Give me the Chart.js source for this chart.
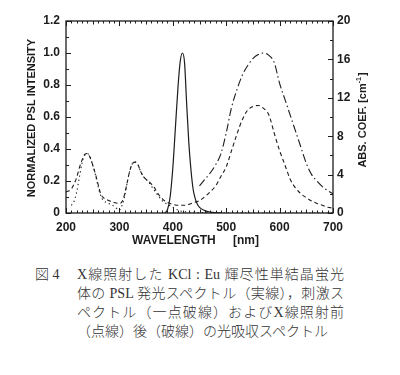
<!DOCTYPE html>
<html lang="ja">
<head>
<meta charset="utf-8">
<script src="https://cdn.jsdelivr.net/npm/chart.js@4.4.0/dist/chart.umd.min.js"></script>
<style>
body { margin: 0; background: #fff; width: 400px; height: 375px; overflow: hidden; position: relative; }
#chart { position: absolute; left: 0; top: 0; }
.cap { position: absolute; font-family: "Liberation Serif", "Noto Sans CJK JP", serif; font-size: 14px; font-weight: 300; line-height: 19px; color: #333; white-space: nowrap; }
.just { width: 267px; text-align: justify; text-align-last: justify; }
</style>
</head>
<body>
<canvas id="chart" width="400" height="250"></canvas>
<div class="cap" style="left:35px; top:265px;">図 4</div>
<div class="cap" style="left:77px; top:265px;">
  <div class="just">X線照射した KCl : Eu 輝尽性単結晶蛍光</div>
  <div class="just">体の PSL 発光スペクトル（実線），刺激ス</div>
  <div class="just">ペクトル（一点破線）およびX線照射前</div>
  <div>（点線）後（破線）の光吸収スペクトル</div>
</div>
<script>
// PSL emission (solid), normalized
const pslWavelength = [385, 390, 395, 400, 405, 410, 414, 418, 422, 426, 430, 434, 438, 442, 446, 450, 460, 470, 480, 490];
const pslIntensity  = [0, 0.02, 0.1, 0.28, 0.54, 0.8, 0.95, 1.0, 0.94, 0.68, 0.44, 0.27, 0.15, 0.09, 0.055, 0.035, 0.015, 0.006, 0.002, 0];

// stimulation spectrum (dash-dot), normalized
const stimWavelength = [450, 460, 470, 480, 490, 500, 510, 520, 530, 540, 550, 560, 570, 580, 590, 600, 610, 620, 630, 640, 650, 660, 670, 680, 690, 700];
const stimIntensity  = [0.17, 0.21, 0.25, 0.3, 0.37, 0.5, 0.66, 0.77, 0.86, 0.92, 0.965, 0.99, 1.0, 0.985, 0.94, 0.81, 0.71, 0.61, 0.51, 0.41, 0.31, 0.24, 0.2, 0.165, 0.14, 0.12];

// absorption after X-ray irradiation (dashed), cm^-1
const absAfterWavelength = [200, 205, 210, 215, 220, 225, 230, 235, 240, 245, 250, 255, 260, 265, 270, 280, 290, 300, 305, 310, 315, 320, 325, 330, 335, 340, 345, 350, 355, 360, 365, 370, 375, 380, 385, 390, 400, 410, 420, 430, 440, 450, 460, 470, 480, 490, 500, 510, 520, 530, 540, 550, 560, 570, 580, 590, 600, 610, 620, 630, 640, 650, 660, 670, 680, 690, 700];
const absAfterCoef = [2.2, 2.3, 2.5, 3.0, 3.7, 4.7, 5.5, 6.1, 6.2, 5.8, 5.0, 4.1, 3.0, 2.0, 1.6, 1.3, 1.1, 1.0, 1.2, 2.0, 3.3, 4.5, 5.2, 5.3, 5.0, 4.3, 3.8, 3.5, 3.3, 3.0, 2.7, 2.2, 1.8, 1.5, 1.25, 1.1, 0.9, 0.8, 0.8, 0.9, 1.1, 1.3, 1.7, 2.2, 2.8, 3.8, 4.8, 6.5, 8.2, 9.7, 10.7, 11.1, 11.2, 10.9, 10.2, 8.3, 6.5, 5.0, 3.5, 2.6, 2.0, 1.6, 1.25, 1.0, 0.8, 0.6, 0.5];

// absorption before X-ray irradiation (dotted), cm^-1
const absBeforeWavelength = [210, 215, 220, 225, 230, 235, 240, 245, 250, 255, 260, 265, 270, 280, 290, 300, 305, 310, 315, 320, 325, 330, 335, 340, 345, 350, 355, 360, 370, 380, 390, 400, 410, 420, 430, 450, 500, 600, 700];
const absBeforeCoef = [0.8, 1.2, 2.2, 3.7, 5.2, 6.0, 6.2, 5.8, 5.0, 4.0, 2.8, 1.8, 1.3, 1.0, 0.7, 0.3, 0.8, 1.8, 3.3, 4.5, 5.2, 5.3, 5.0, 4.3, 3.8, 3.5, 3.2, 2.8, 2.0, 1.3, 0.9, 0.6, 0.3, 0.15, 0.1, 0.05, 0.02, 0, 0];

const wavelengthTicks = [200, 300, 400, 500, 600, 700];
const intensityTicks = [0, 0.2, 0.4, 0.6, 0.8, 1.0, 1.2];
const coefTicks = [0, 4, 8, 12, 16, 20];

const ink = '#1c1c1c';
const tickFont = { family: 'Liberation Sans', size: 12, weight: 'bold' };

function toPoints(xs, ys) {
    return xs.map((x, i) => ({ x: x, y: ys[i] }));
}

function setTicks(values) {
    return function (scale) {
        scale.ticks = values.map(v => ({ value: v }));
    };
}

// frame, inward tick marks and axis titles
const framePlugin = {
    id: 'frame',
    afterDraw(chart) {
        const ctx = chart.ctx;
        const a = chart.chartArea;
        const x = chart.scales.x, y = chart.scales.y, y2 = chart.scales.y2;
        ctx.save();
        ctx.strokeStyle = ink;
        ctx.lineWidth = 1.3;
        ctx.strokeRect(a.left, a.top, a.right - a.left, a.bottom - a.top);

        ctx.lineWidth = 1;
        ctx.beginPath();
        for (let w = 200; w <= 700; w += 10) {
            const px = Math.round(x.getPixelForValue(w)) + 0.5;
            const len = w % 100 === 0 ? 5 : (w % 50 === 0 ? 3.5 : 2.5);
            ctx.moveTo(px, a.bottom); ctx.lineTo(px, a.bottom - len);
            ctx.moveTo(px, a.top); ctx.lineTo(px, a.top + len);
        }
        for (let i = 0; i <= 12; i++) {
            const py = Math.round(y.getPixelForValue(i / 10)) + 0.5;
            const len = i % 2 === 0 ? 5 : 3;
            ctx.moveTo(a.left, py); ctx.lineTo(a.left + len, py);
        }
        for (let v = 0; v <= 20; v += 2) {
            const py = Math.round(y2.getPixelForValue(v)) + 0.5;
            const len = v % 4 === 0 ? 5 : 3;
            ctx.moveTo(a.right, py); ctx.lineTo(a.right - len, py);
        }
        ctx.stroke();

        ctx.fillStyle = ink;
        ctx.font = 'bold 11px "Liberation Sans"';
        ctx.textBaseline = 'middle';

        // left title
        ctx.save();
        ctx.translate(32, 118);
        ctx.rotate(-Math.PI / 2);
        ctx.textAlign = 'center';
        ctx.fillText('NORMALIZED PSL INTENSITY', 0, 0);
        ctx.restore();

        // right title with superscript
        ctx.save();
        ctx.translate(363, 120);
        ctx.rotate(-Math.PI / 2);
        ctx.textAlign = 'left';
        const main = 'ABS. COEF. [cm';
        ctx.font = 'bold 11px "Liberation Sans"';
        const wMain = ctx.measureText(main).width;
        ctx.font = 'bold 7px "Liberation Sans"';
        const wSup = ctx.measureText('-1').width;
        ctx.font = 'bold 11px "Liberation Sans"';
        const wEnd = ctx.measureText(']').width;
        let sx = -(wMain + wSup + wEnd + 1) / 2;
        ctx.fillText(main, sx, 0);
        sx += wMain;
        ctx.font = 'bold 7px "Liberation Sans"';
        ctx.fillText('-1', sx, -4);
        sx += wSup + 1;
        ctx.font = 'bold 11px "Liberation Sans"';
        ctx.fillText(']', sx, 0);
        ctx.restore();

        // bottom title
        ctx.font = 'bold 12px "Liberation Sans"';
        ctx.textAlign = 'left';
        ctx.fillText('WAVELENGTH', 132, 241);
        ctx.fillText('[nm]', 233, 241);
        ctx.restore();
    }
};

new Chart(document.getElementById('chart'), {
    type: 'line',
    data: {
        datasets: [
            {
                label: 'PSL',
                data: toPoints(pslWavelength, pslIntensity),
                yAxisID: 'y',
                borderColor: ink,
                borderWidth: 1.2,
            },
            {
                label: 'stimulation',
                data: toPoints(stimWavelength, stimIntensity),
                yAxisID: 'y',
                borderColor: ink,
                borderWidth: 1.1,
                borderDash: [8, 3, 1.5, 3],
            },
            {
                label: 'after',
                data: toPoints(absAfterWavelength, absAfterCoef),
                yAxisID: 'y2',
                borderColor: ink,
                borderWidth: 1.1,
                borderDash: [4, 3],
            },
            {
                label: 'before',
                data: toPoints(absBeforeWavelength, absBeforeCoef),
                yAxisID: 'y2',
                borderColor: ink,
                borderWidth: 1.1,
                borderDash: [1.3, 3],
            }
        ]
    },
    options: {
        responsive: false,
        animation: false,
        devicePixelRatio: 1,
        layout: { padding: { top: 21, left: 0, right: 0, bottom: 0 } },
        elements: {
            point: { radius: 0 },
            line: { cubicInterpolationMode: 'monotone', fill: false }
        },
        plugins: {
            legend: { display: false },
            tooltip: { enabled: false }
        },
        scales: {
            x: {
                type: 'linear',
                min: 200,
                max: 700,
                afterBuildTicks: setTicks(wavelengthTicks),
                afterFit: function (scale) { scale.height = 37; },
                grid: { display: false, drawTicks: false },
                border: { display: false },
                ticks: { color: ink, font: tickFont, padding: 7 }
            },
            y: {
                position: 'left',
                min: 0,
                max: 1.2,
                afterBuildTicks: setTicks(intensityTicks),
                afterFit: function (scale) { scale.width = 66; },
                grid: { display: false, drawTicks: false },
                border: { display: false },
                ticks: {
                    color: ink,
                    font: tickFont,
                    padding: 6,
                    callback: function (value) { return value === 0 ? '0' : value.toFixed(1); }
                }
            },
            y2: {
                position: 'right',
                min: 0,
                max: 20,
                afterBuildTicks: setTicks(coefTicks),
                afterFit: function (scale) { scale.width = 67; },
                grid: { display: false, drawTicks: false },
                border: { display: false },
                ticks: { color: ink, font: tickFont, padding: 4 }
            }
        }
    },
    plugins: [framePlugin]
});
</script>
</body>
</html>
